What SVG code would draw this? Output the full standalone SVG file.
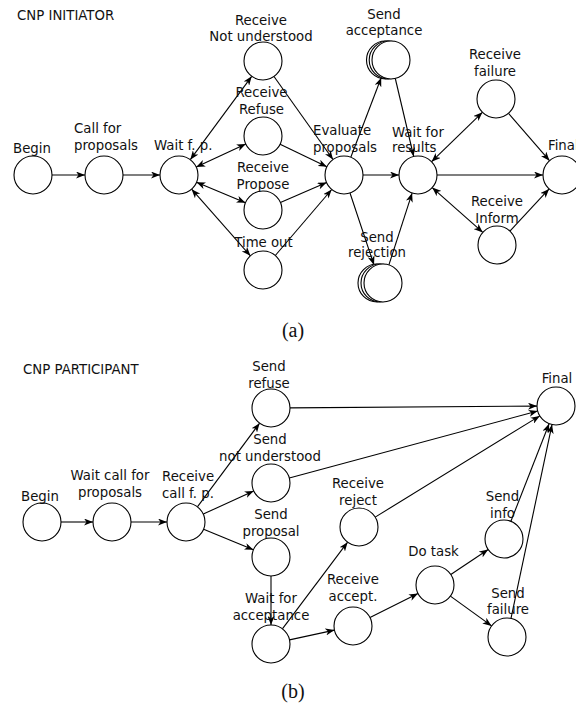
<svg xmlns="http://www.w3.org/2000/svg" width="576" height="706" viewBox="0 0 576 706">
  <style>
    .st circle { fill: #fff; stroke: #000; stroke-width: 1.1; }
    text { font-family: "DejaVu Sans", "Liberation Sans", sans-serif; font-size: 13.3px; fill: #111; }
    .lbl { text-anchor: middle; }
    .lft { text-anchor: start; }
    .cap { font-family: "Liberation Serif", serif; font-size: 20px; text-anchor: middle; }
    .edges line { stroke: #000; stroke-width: 1.1; fill: none; marker-end: url(#ah); }
    .edges line.both { marker-start: url(#ah); }
  </style>
  <defs>
    <marker id="ah" viewBox="0 0 9 7" refX="9" refY="3.5" markerWidth="9" markerHeight="7" markerUnits="userSpaceOnUse" orient="auto-start-reverse">
      <path d="M0,0 L9,3.5 L0,7 L2.5,3.5 z" fill="#000"/>
    </marker>
  </defs>

  <rect width="576" height="706" fill="#fff"/>

  <!-- (a) initiator state machine -->
  <text x="17" y="20">CNP INITIATOR</text>

  <g class="edges" id="edges-a">
    <line x1="52" y1="175" x2="85" y2="175"/>
    <line x1="123" y1="175" x2="160" y2="175"/>
    <line class="both" x1="190.3" y1="159.7" x2="251.7" y2="76.3"/>
    <line class="both" x1="196.2" y1="167" x2="245.8" y2="144"/>
    <line class="both" x1="196.5" y1="182.3" x2="245.5" y2="202.7"/>
    <line class="both" x1="191.6" y1="189.2" x2="250.4" y2="255.8"/>
    <line x1="274" y1="76.5" x2="333" y2="159.5"/>
    <line x1="280.1" y1="144.2" x2="326.9" y2="166.8"/>
    <line x1="280.4" y1="202.5" x2="326.6" y2="182.5"/>
    <line x1="275.3" y1="255.5" x2="331.7" y2="189.5"/>
    <line x1="350.8" y1="157.3" x2="381.2" y2="77.7"/>
    <line x1="350" y1="193" x2="374" y2="265"/>
    <line x1="363" y1="175" x2="399" y2="175"/>
    <line x1="395.3" y1="78.5" x2="413.7" y2="156.5"/>
    <line x1="388.9" y1="264.9" x2="412.1" y2="193.1"/>
    <line class="both" x1="431.6" y1="161.7" x2="482.4" y2="112.3"/>
    <line x1="437" y1="175" x2="543" y2="175"/>
    <line class="both" x1="432.2" y1="187.6" x2="482.8" y2="232.4"/>
    <line x1="508.5" y1="113.3" x2="549.5" y2="160.7"/>
    <line x1="509.9" y1="231.1" x2="549.1" y2="188.9"/>
  </g>

  <g class="st" id="a-begin"><circle cx="33" cy="175" r="19"/><text class="lbl" x="32" y="153">Begin</text></g>
  <g class="st" id="a-call"><circle cx="104" cy="175" r="19"/><text class="lft" x="74" y="133">Call for</text><text class="lft" x="74" y="149.5">proposals</text></g>
  <g class="st" id="a-wait-fp"><circle cx="179" cy="175" r="19"/><text class="lft" x="154" y="149.5">Wait f. p.</text></g>
  <g class="st" id="a-recv-nu"><circle cx="263" cy="61" r="19"/><text class="lbl" x="261" y="25">Receive</text><text class="lbl" x="261" y="41">Not understood</text></g>
  <g class="st" id="a-recv-refuse"><circle cx="263" cy="136" r="19"/><text class="lbl" x="261.5" y="97">Receive</text><text class="lbl" x="261.5" y="113.5">Refuse</text></g>
  <g class="st" id="a-recv-propose"><circle cx="263" cy="210" r="19"/><text class="lbl" x="263" y="171.5">Receive</text><text class="lbl" x="263" y="188.5">Propose</text></g>
  <g class="st" id="a-timeout"><circle cx="263" cy="270" r="19"/><text class="lbl" x="263.5" y="246.5">Time out</text></g>
  <g class="st" id="a-evaluate"><circle cx="344" cy="175" r="19"/><text class="lft" x="313" y="135">Evaluate</text><text class="lft" x="313" y="151.5">proposals</text></g>
  <g class="st" id="a-send-accept"><circle cx="385.5" cy="60" r="19"/><circle cx="388.2" cy="60" r="19"/><circle cx="391" cy="60" r="19"/><text class="lbl" x="384" y="19">Send</text><text class="lbl" x="384" y="35">acceptance</text></g>
  <g class="st" id="a-send-reject"><circle cx="377" cy="283" r="19"/><circle cx="380" cy="283" r="19"/><circle cx="383" cy="283" r="19"/><text class="lbl" x="377" y="241.5">Send</text><text class="lbl" x="377" y="257">rejection</text></g>
  <g class="st" id="a-wait-results"><circle cx="418" cy="175" r="19"/><text class="lft" x="392" y="136.5">Wait for</text><text class="lft" x="392" y="151.5">results</text></g>
  <g class="st" id="a-recv-failure"><circle cx="496" cy="99" r="19"/><text class="lbl" x="495" y="59">Receive</text><text class="lbl" x="495" y="76">failure</text></g>
  <g class="st" id="a-recv-inform"><circle cx="497" cy="245" r="19"/><text class="lbl" x="497" y="206">Receive</text><text class="lbl" x="497" y="223">Inform</text></g>
  <g class="st" id="a-final"><circle cx="562" cy="175" r="19"/><text class="lft" x="548" y="150">Final</text></g>

  <text class="cap" x="293" y="337">(a)</text>

  <!-- (b) participant state machine -->
  <text x="23" y="374">CNP PARTICIPANT</text>

  <g class="edges" id="edges-b">
    <line x1="61" y1="522" x2="93" y2="522"/>
    <line x1="131" y1="522" x2="167" y2="522"/>
    <line x1="197.4" y1="506.8" x2="259.6" y2="423.2"/>
    <line x1="203.3" y1="514.1" x2="253.7" y2="490.9"/>
    <line x1="203.6" y1="529.2" x2="253.4" y2="549.8"/>
    <line x1="290" y1="407.9" x2="537" y2="406.1"/>
    <line x1="289.3" y1="478" x2="537.7" y2="411"/>
    <line x1="375.2" y1="517.1" x2="539.8" y2="415.9"/>
    <line x1="510.9" y1="521.3" x2="549.1" y2="423.7"/>
    <line x1="511" y1="618.4" x2="552" y2="424.6"/>
    <line x1="271" y1="576" x2="271" y2="625"/>
    <line x1="282.4" y1="628.8" x2="347.6" y2="542.2"/>
    <line x1="289.5" y1="639.9" x2="334.5" y2="630.1"/>
    <line x1="370" y1="617.5" x2="418" y2="593.5"/>
    <line x1="450.8" y1="574.5" x2="488.2" y2="549.5"/>
    <line x1="450.4" y1="596.1" x2="491.6" y2="625.9"/>
  </g>

  <g class="st" id="b-begin"><circle cx="42" cy="522" r="19"/><text class="lbl" x="40" y="500.7">Begin</text></g>
  <g class="st" id="b-wait-call"><circle cx="112" cy="522" r="19"/><text class="lbl" x="110" y="480">Wait call for</text><text class="lbl" x="110" y="496.7">proposals</text></g>
  <g class="st" id="b-recv-call"><circle cx="186" cy="522" r="19"/><text class="lft" x="162" y="481">Receive</text><text class="lft" x="162" y="498.3">call f. p.</text></g>
  <g class="st" id="b-send-refuse"><circle cx="271" cy="408" r="19"/><text class="lbl" x="269" y="370.7">Send</text><text class="lbl" x="269" y="387.7">refuse</text></g>
  <g class="st" id="b-send-nu"><circle cx="271" cy="483" r="19"/><text class="lbl" x="270" y="444.3">Send</text><text class="lbl" x="270" y="461">not understood</text></g>
  <g class="st" id="b-send-proposal"><circle cx="271" cy="557" r="19"/><text class="lbl" x="271" y="519.3">Send</text><text class="lbl" x="271" y="535.7">proposal</text></g>
  <g class="st" id="b-wait-accept"><circle cx="271" cy="644" r="19"/><text class="lbl" x="271" y="603.3">Wait for</text><text class="lbl" x="271" y="620">acceptance</text></g>
  <g class="st" id="b-recv-reject"><circle cx="359" cy="527" r="19"/><text class="lbl" x="358" y="488.3">Receive</text><text class="lbl" x="358" y="505">reject</text></g>
  <g class="st" id="b-recv-accept"><circle cx="353" cy="626" r="19"/><text class="lbl" x="353" y="584.3">Receive</text><text class="lbl" x="353" y="601">accept.</text></g>
  <g class="st" id="b-do-task"><circle cx="435" cy="585" r="19"/><text class="lbl" x="433.5" y="556">Do task</text></g>
  <g class="st" id="b-send-info"><circle cx="504" cy="539" r="19"/><text class="lbl" x="502.5" y="500.7">Send</text><text class="lbl" x="502.5" y="517.7">info</text></g>
  <g class="st" id="b-send-failure"><circle cx="507" cy="637" r="19"/><text class="lbl" x="508" y="598.3">Send</text><text class="lbl" x="508" y="614.3">failure</text></g>
  <g class="st" id="b-final"><circle cx="556" cy="406" r="19"/><text class="lbl" x="557" y="383">Final</text></g>

  <text class="cap" x="293" y="698">(b)</text>
</svg>
